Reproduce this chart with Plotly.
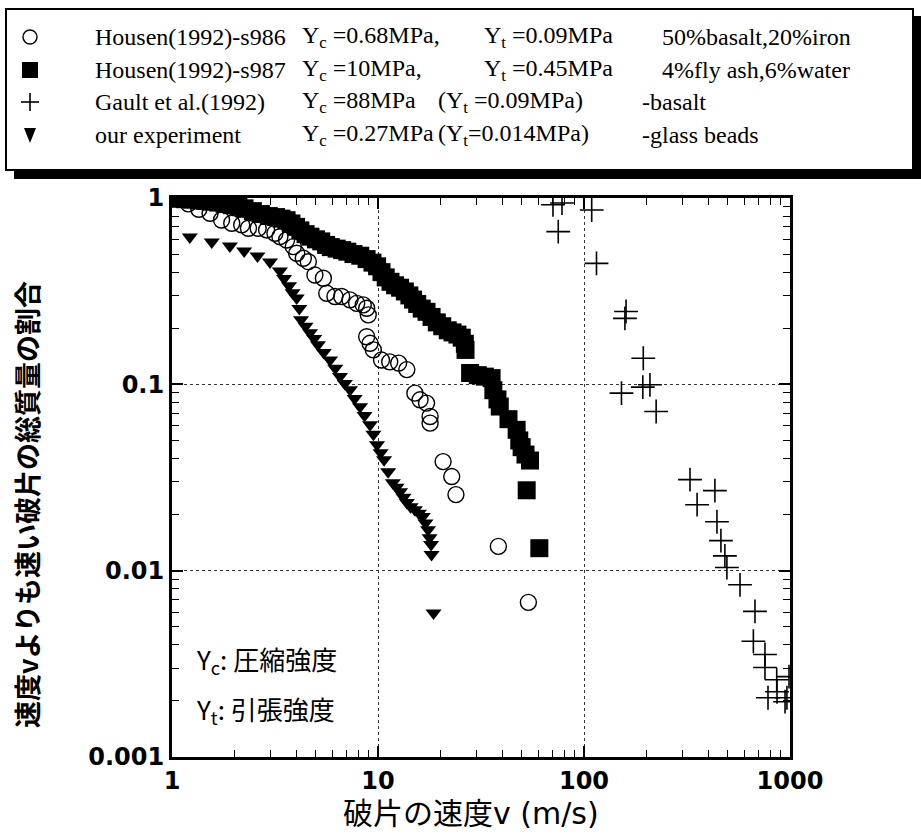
import plotly.graph_objects as go

W, H = 921, 834

# ---------------- data ----------------
s986_v = [1.2, 1.35, 1.53, 1.74, 1.95, 2.18, 2.35, 2.62, 2.88, 3.16, 3.34, 3.60, 3.88, 4.03, 4.34, 4.59,
          4.94, 5.43, 5.64, 6.18, 6.66, 7.31, 7.88, 8.48, 8.81, 8.97, 8.81, 9.15, 9.49, 10.4, 11.4,
          12.6, 13.8, 15.1, 16.0, 17.2, 17.9, 17.9, 20.7, 22.8, 23.9, 38.4, 53.7]
s986_f = [0.93, 0.87, 0.828, 0.762, 0.732, 0.717, 0.688, 0.688, 0.674, 0.647, 0.620, 0.595, 0.548, 0.505,
          0.475, 0.455, 0.386, 0.371, 0.308, 0.296, 0.296, 0.284, 0.272, 0.267, 0.256, 0.236, 0.180,
          0.166, 0.153, 0.135, 0.132, 0.130, 0.120, 0.0897, 0.0826, 0.0793, 0.0672, 0.0619, 0.0385,
          0.0320, 0.0256, 0.0135, 0.00676]

s987_v = [1.0, 1.08, 1.16, 1.25, 1.35, 1.45, 1.56, 1.68, 1.8, 1.95, 2.1, 2.25, 2.47, 2.7, 2.95, 3.2,
          3.4, 3.6, 3.8, 4.0, 4.2, 4.45, 4.7, 5.0, 5.3, 5.6, 5.9, 6.3, 6.7, 7.1, 7.6, 8.2, 8.8, 9.4,
          9.9, 10.4, 10.9, 11.5, 12.1, 12.8, 13.5, 14.2, 14.8, 15.5, 16.3, 17.2, 18.2, 19.3, 20.5,
          21.8, 23.0, 24.3, 25.5, 26.4, 26.6, 28.0, 30.5, 33.0, 35.6, 36.3, 38.0, 39.0, 43.0, 47.1,
          48.5, 49.8, 52.0, 54.7, 52.7, 60.7]
s987_f = [1.0, 0.99, 0.985, 0.98, 0.97, 0.965, 0.955, 0.945, 0.93, 0.915, 0.90, 0.88, 0.85, 0.82, 0.80,
          0.79, 0.775, 0.76, 0.73, 0.70, 0.67, 0.64, 0.62, 0.60, 0.585, 0.56, 0.545, 0.535, 0.525,
          0.515, 0.50, 0.49, 0.47, 0.45, 0.43, 0.40, 0.375, 0.355, 0.34, 0.33, 0.315, 0.30, 0.285,
          0.27, 0.255, 0.245, 0.23, 0.215, 0.205, 0.195, 0.19, 0.185, 0.178, 0.165, 0.153, 0.115,
          0.112, 0.110, 0.108, 0.093, 0.083, 0.076, 0.065, 0.057, 0.050, 0.046, 0.042, 0.039, 0.027,
          0.0132]

gault_v = [70.7, 78.2, 75.0, 109, 115, 160, 158, 194, 193, 209, 152, 224, 327, 354, 432, 442, 462, 483,
           494, 572, 676, 664, 756, 756, 862, 782, 865, 989, 966, 946]
gault_f = [0.92, 0.94, 0.66, 0.862, 0.446, 0.246, 0.226, 0.138, 0.0966, 0.0994, 0.0897, 0.0715, 0.0308,
           0.0226, 0.0269, 0.0183, 0.0145, 0.0120, 0.0104, 0.0084, 0.00605, 0.00418, 0.00355, 0.00302,
           0.0026, 0.00208, 0.00224, 0.0027, 0.00208, 0.00198]

ours_v = [1.22, 1.56, 1.91, 2.24, 2.60, 2.99, 3.34, 3.5, 3.70, 3.85, 4.03, 4.15, 4.23, 4.45, 4.68, 4.90,
          5.11, 5.45, 5.85, 6.2, 6.54, 6.9, 7.31, 7.7, 8.18, 8.6, 9.15, 9.5, 9.89, 10.3, 10.7, 11.2,
          11.8, 12.3, 12.8, 13.3, 13.8, 14.4, 15.1, 15.8, 16.5, 17.0, 17.5, 17.8, 18.1, 18.2, 18.6]
ours_f = [0.618, 0.581, 0.553, 0.520, 0.489, 0.454, 0.406, 0.37, 0.338, 0.31, 0.291, 0.255, 0.222, 0.205,
          0.189, 0.176, 0.163, 0.148, 0.135, 0.122, 0.110, 0.101, 0.0935, 0.084, 0.0757, 0.068, 0.0607,
          0.054, 0.0474, 0.043, 0.0394, 0.034, 0.0296, 0.028, 0.0265, 0.0248, 0.0232, 0.022, 0.0212,
          0.0203, 0.0195, 0.018, 0.0166, 0.0150, 0.0138, 0.0122, 0.00593]

x_tickvals = [1, 10, 100, 1000]
x_ticktext = ["1", "10", "100", "1000"]
y_tickvals = [1, 0.1, 0.01, 0.001]
y_ticktext = ["1", "0.1", "0.01", "0.001"]

legend_rows = [
    ("Housen(1992)-s986", "Y<sub>c</sub> =0.68MPa,", "Y<sub>t</sub> =0.09MPa", "50%basalt,20%iron"),
    ("Housen(1992)-s987", "Y<sub>c</sub> =10MPa,", "Y<sub>t</sub> =0.45MPa", "4%fly ash,6%water"),
    ("Gault et al.(1992)", "Y<sub>c</sub> =88MPa", "(Y<sub>t</sub> =0.09MPa)", "-basalt"),
    ("our experiment", "Y<sub>c</sub> =0.27MPa", "(Y<sub>t</sub>=0.014MPa)", "-glass beads"),
]

# ---------------- helpers (pixel -> paper) ----------------
def px(x):
    return x / W

def py(y):
    return 1 - y / H

L, R, T, B = 172, 790, 198, 757

fig = go.Figure()

fig.add_trace(go.Scatter(x=ours_v, y=ours_f, mode="markers", name="our experiment",
                         marker=dict(symbol="triangle-down", size=14, color="black", line=dict(width=0))))
fig.add_trace(go.Scatter(x=s987_v, y=s987_f, mode="markers", name="Housen(1992)-s987",
                         marker=dict(symbol="square", size=18, color="black", line=dict(width=0))))
fig.add_trace(go.Scatter(x=s986_v, y=s986_f, mode="markers", name="Housen(1992)-s986",
                         marker=dict(symbol="circle-open", size=16, color="black", line=dict(width=1.4))))
fig.add_trace(go.Scatter(x=gault_v, y=gault_f, mode="markers", name="Gault et al.(1992)",
                         marker=dict(symbol="cross-thin-open", size=17, color="black", line=dict(width=1.6, color="black"))))

axis_common = dict(
    type="log", showline=True, linewidth=3, linecolor="black", mirror="allticks",
    ticks="inside", ticklen=11, tickwidth=1.5, tickcolor="black",
    showgrid=True, gridcolor="#333", gridwidth=1, griddash="dot",
    zeroline=False, automargin=False,
    minor=dict(ticks="inside", ticklen=7, tickwidth=1.3, tickcolor="black", dtick="D1", showgrid=False),
    tickfont=dict(family="DejaVu Sans", size=24, color="black", weight="bold"),
    tickmode="array",
)

fig.update_xaxes(**axis_common, range=[0, 3], domain=[px(L), px(R)],
                 tickvals=x_tickvals, ticktext=x_ticktext)
fig.update_yaxes(**axis_common, range=[-3, 0], domain=[py(B), py(T)],
                 tickvals=y_tickvals, ticktext=y_ticktext)

shapes = []
# legend box with shadow
shapes.append(dict(type="rect", xref="paper", yref="paper", x0=px(14), x1=px(921), y0=py(179), y1=py(16),
                   fillcolor="black", line=dict(width=0), layer="above"))
shapes.append(dict(type="rect", xref="paper", yref="paper", x0=px(6), x1=px(913), y0=py(170), y1=py(9),
                   fillcolor="white", line=dict(width=2, color="black"), layer="above"))
# legend symbols
rows_y = [37, 70, 102, 135]
sx = 30
shapes.append(dict(type="circle", xref="paper", yref="paper", x0=px(sx - 7), x1=px(sx + 7),
                   y0=py(rows_y[0] + 7), y1=py(rows_y[0] - 7), line=dict(width=1.4, color="black"), layer="above"))
shapes.append(dict(type="rect", xref="paper", yref="paper", x0=px(sx - 8), x1=px(sx + 8),
                   y0=py(rows_y[1] + 8), y1=py(rows_y[1] - 8), fillcolor="black", line=dict(width=0), layer="above"))
shapes.append(dict(type="line", xref="paper", yref="paper", x0=px(sx - 9), x1=px(sx + 9),
                   y0=py(rows_y[2]), y1=py(rows_y[2]), line=dict(width=1.6, color="black"), layer="above"))
shapes.append(dict(type="line", xref="paper", yref="paper", x0=px(sx), x1=px(sx),
                   y0=py(rows_y[2] - 9), y1=py(rows_y[2] + 9), line=dict(width=1.6, color="black"), layer="above"))
ty = rows_y[3]
shapes.append(dict(type="path", xref="paper", yref="paper",
                   path=f"M {px(sx-6)},{py(ty-7)} L {px(sx+6)},{py(ty-7)} L {px(sx)},{py(ty+8)} Z",
                   fillcolor="black", line=dict(width=0), layer="above"))

annotations = []
serif = dict(family="Liberation Serif", size=24, color="black")
col_x_row = [
    [93, 300, 482, 660],
    [93, 300, 482, 660],
    [93, 300, 436, 640],
    [93, 300, 436, 640],
]
for r, row in enumerate(legend_rows):
    for c, txt in enumerate(row):
        annotations.append(dict(text=txt, x=px(col_x_row[r][c]), y=py(rows_y[r]), xref="paper", yref="paper",
                                xanchor="left", yanchor="middle", showarrow=False, font=serif))

sans = dict(family="Noto Sans CJK JP", size=26, color="black")
annotations.append(dict(text="Y<sub>c</sub>: 圧縮強度", x=px(194), y=py(660), xref="paper", yref="paper",
                        xanchor="left", yanchor="middle", showarrow=False, font=sans))
annotations.append(dict(text="Y<sub>t</sub>: 引張強度", x=px(194), y=py(710), xref="paper", yref="paper",
                        xanchor="left", yanchor="middle", showarrow=False, font=sans))
# axis titles
annotations.append(dict(text="破片の速度v (m/s)", x=px(471), y=py(813), xref="paper", yref="paper",
                        xanchor="center", yanchor="middle", showarrow=False,
                        font=dict(family="DejaVu Sans, Noto Sans CJK JP", size=30, color="black")))
annotations.append(dict(text="速度vよりも速い破片の総質量の割合", x=px(26), y=py(505), xref="paper", yref="paper",
                        xanchor="center", yanchor="middle", showarrow=False, textangle=-90,
                        font=dict(family="Noto Sans CJK JP", size=27, color="black", weight="bold")))

fig.update_layout(
    width=W, height=H, margin=dict(l=0, r=0, t=0, b=0, autoexpand=False),
    paper_bgcolor="white", plot_bgcolor="white",
    showlegend=False, shapes=shapes, annotations=annotations,
)

fig.write_html("out.html", config={"displayModeBar": False},
               post_script="document.body.style.margin='0';document.body.style.overflow='hidden';")
